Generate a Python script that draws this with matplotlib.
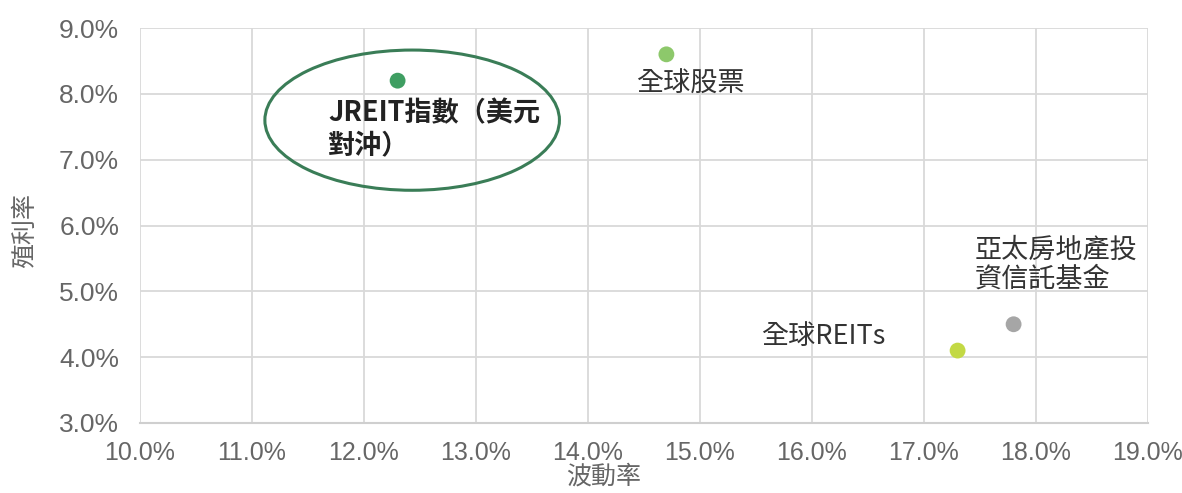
import matplotlib
matplotlib.use("Agg")
import matplotlib.pyplot as plt
from matplotlib.patches import Ellipse
from matplotlib.ticker import FuncFormatter, MultipleLocator

plt.rcParams['font.family'] = ['Noto Sans CJK TC', 'DejaVu Sans']

# Data
names = ["JREIT指數（美元\n對沖）", "全球股票", "全球REITs", "亞太房地產投\n資信託基金"]
volatility = [12.3, 14.7, 17.3, 17.8]
yields = [8.2, 8.6, 4.1, 4.5]
colors = ["#3f9e62", "#8dc86b", "#c3d944", "#a6a6a6"]
x_label = "波動率"
y_label = "殖利率"

W, H = 1182, 493
fig = plt.figure(figsize=(W / 100, H / 100), dpi=100)
ax = fig.add_axes([140 / W, 1 - 423 / H, (1148 - 140) / W, (423 - 28) / H])

ax.scatter(volatility, yields, s=130, c=colors, zorder=3, linewidths=0)

ax.set_xlim(10, 19)
ax.set_ylim(3, 9)
ax.xaxis.set_major_locator(MultipleLocator(1))
ax.yaxis.set_major_locator(MultipleLocator(1))
ax.xaxis.set_major_formatter(FuncFormatter(lambda v, p: f"{v:.1f}%"))
ax.yaxis.set_major_formatter(FuncFormatter(lambda v, p: f"{v:.1f}%"))
ax.grid(True, color="#d9d9d9", linewidth=1.3)
ax.set_axisbelow(True)
for side in ["top", "right", "left"]:
    ax.spines[side].set_visible(False)
ax.spines["bottom"].set_color("#cfcfcf")
ax.spines["bottom"].set_linewidth(1.5)
ax.tick_params(length=0, colors="#666666")
ax.tick_params(axis="y", pad=15)
ax.tick_params(axis="x", pad=13)
for lab in ax.get_xticklabels():
    lab.set_family(['Liberation Sans', 'DejaVu Sans'])
    lab.set_fontsize(18)
for lab in ax.get_yticklabels():
    lab.set_family(['Liberation Sans', 'DejaVu Sans'])
    lab.set_fontsize(19)

# Labels
ax.annotate(names[0], (volatility[0], yields[0]), xytext=(-50, -35), textcoords="offset points",
            ha="left", va="center", fontsize=19.5, fontweight="bold", color="#222222", linespacing=1.15)
ax.annotate(names[1], (volatility[1], yields[1]), xytext=(-22, -21.5), textcoords="offset points",
            ha="left", va="center", fontsize=19.5, color="#333333")
ax.annotate(names[2], (volatility[2], yields[2]), xytext=(-52, 10), textcoords="offset points",
            ha="right", va="center", fontsize=19.5, color="#333333")
ax.annotate(names[3], (volatility[3], yields[3]), xytext=(-28, 43), textcoords="offset points",
            ha="left", va="center", fontsize=19.5, color="#333333", linespacing=1.1)

# Highlight ellipse around JREIT
ax.add_patch(Ellipse((volatility[0] + 0.13, yields[0] - 0.6), 2.63, 2.13,
                     fill=False, edgecolor="#3a7d57", linewidth=2.2, zorder=4, clip_on=False))

fig.text(604 / W, 1 - 477 / H, x_label, ha="center", va="center", fontsize=18, color="#666666")
fig.text(25 / W, 1 - 230 / H, y_label, ha="center", va="center", fontsize=18, color="#666666",
         rotation=90)

fig.savefig("out.png", dpi=100, facecolor="white")
